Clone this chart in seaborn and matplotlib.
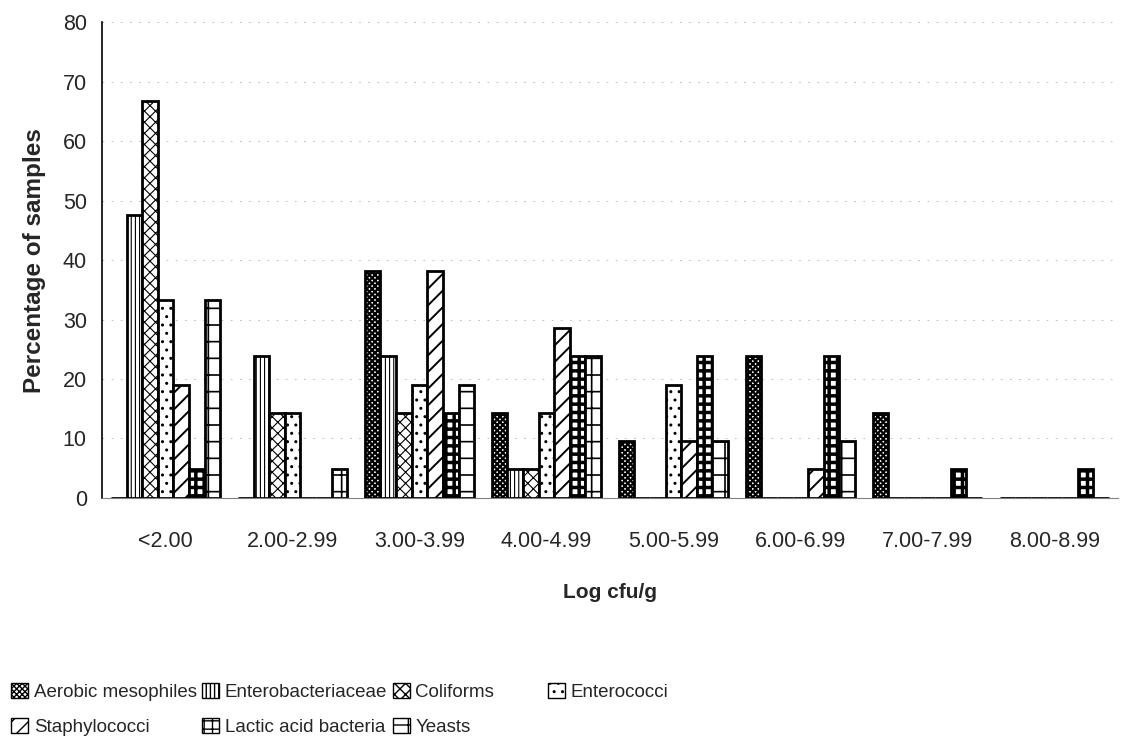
import pandas as pd
import matplotlib
matplotlib.use('Agg')
import matplotlib.pyplot as plt
from matplotlib.patches import Patch
import seaborn as sns

# Valores (% de amostras, n=21)
categories = ['<2.00', '2.00-2.99', '3.00-3.99', '4.00-4.99',
              '5.00-5.99', '6.00-6.99', '7.00-7.99', '8.00-8.99']
series_names = ['Aerobic mesophiles', 'Enterobacteriaceae', 'Coliforms',
                'Enterococci', 'Staphylococci', 'Lactic acid bacteria', 'Yeasts']
aerobic = [0, 0, 38.1, 14.3, 9.5, 23.8, 14.3, 0]
entero = [47.6, 23.8, 23.8, 4.8, 0, 0, 0, 0]
coliforms = [66.7, 14.3, 14.3, 4.8, 0, 0, 0, 0]
enterococci = [33.3, 14.3, 19.0, 14.3, 19.0, 0, 0, 0]
staph = [19.0, 0, 38.1, 28.6, 9.5, 4.8, 0, 0]
lab = [4.8, 0, 14.3, 23.8, 23.8, 23.8, 4.8, 4.8]
yeasts = [33.3, 4.8, 19.0, 23.8, 9.5, 9.5, 0, 0]
y_ticks = [0, 10, 20, 30, 40, 50, 60, 70, 80]

hatches = ['xxxxxx', '||||', 'xxx', '..', '//', '++', '+']
hatch_lw = [1.6, 0.8, 0.8, 1.0, 1.4, 2.5, 1.2]

# Tabela longa para o seaborn
values = [aerobic, entero, coliforms, enterococci, staph, lab, yeasts]
rows = []
for name, vals in zip(series_names, values):
    for cat, v in zip(categories, vals):
        rows.append({'cat': cat, 'serie': name, 'pct': v})
df = pd.DataFrame(rows)

sns.set_style('white')
plt.rcParams['font.family'] = ['Liberation Sans', 'DejaVu Sans']
plt.rcParams['hatch.linewidth'] = 1.0

fig = plt.figure(figsize=(11.25, 7.42), dpi=100)
ax = fig.add_axes([0.0907, 0.329, 0.903, 0.641])

sns.barplot(data=df, x='cat', y='pct', hue='serie', order=categories,
            hue_order=series_names, palette=['white'] * 7, edgecolor='black',
            linewidth=2.0, width=0.86, legend=False, ax=ax)

for cont, h, lw in zip(ax.containers, hatches, hatch_lw):
    for bar in cont:
        bar.set_hatch(h)
        if hasattr(bar, 'set_hatch_linewidth'):
            bar.set_hatch_linewidth(lw)

ax.set_ylim(0, 80)
ax.set_yticks(y_ticks)
ax.set_xlim(-0.5, len(categories) - 0.5)
ax.yaxis.grid(True, color='0.7', linestyle=(0, (2, 9)), linewidth=0.6)
ax.set_axisbelow(True)

for s in ['top', 'right']:
    ax.spines[s].set_visible(False)
ax.spines['left'].set_color('black')
ax.spines['left'].set_linewidth(1.2)
ax.spines['bottom'].set_color('0.5')
ax.spines['bottom'].set_linewidth(0.8)

ax.tick_params(axis='y', labelsize=15.5, length=3, color='black', pad=8)
ax.tick_params(axis='x', labelsize=15.5, length=0, pad=24)
ax.set_ylabel('Percentage of samples', fontsize=17.5, fontweight='bold', labelpad=12)
ax.set_xlabel('Log cfu/g', fontsize=15, fontweight='bold', labelpad=22)

# Legenda em duas linhas (ordem por linha), Enterococci à parte
handles = [Patch(facecolor='white', edgecolor='black', hatch=h, linewidth=1)
           for h in hatches]
order = [0, 4, 1, 5, 2, 6]
leg_kw = dict(loc='upper left', frameon=False, fontsize=13.5, handlelength=0.9,
              handleheight=0.9, handletextpad=0.3, columnspacing=0.3,
              labelspacing=0.9, borderaxespad=0.2)
fig.legend([handles[i] for i in order], [series_names[i] for i in order],
           bbox_to_anchor=(0.0, 0.095), ncol=3, **leg_kw)
fig.legend([handles[3]], [series_names[3]], bbox_to_anchor=(0.477, 0.095),
           ncol=1, **leg_kw)

fig.savefig('out.png', dpi=100)
